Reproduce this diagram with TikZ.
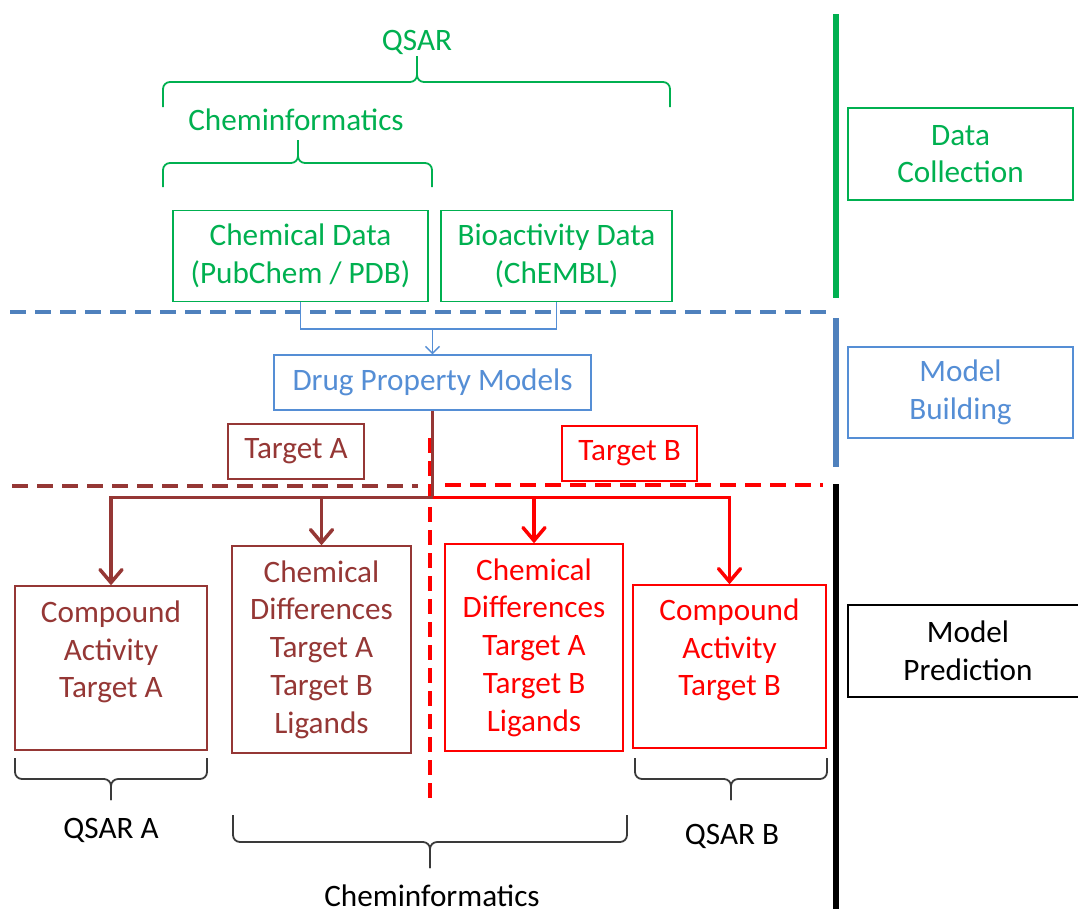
\documentclass[tikz,border=0pt]{standalone}
\usepackage{fontspec}
\setmainfont{Carlito}
\usetikzlibrary{arrows.meta}

\definecolor{qgreen}{HTML}{00B050}
\definecolor{qblue}{HTML}{4F81BD}
\definecolor{qlblue}{HTML}{558ED5}
\definecolor{qdred}{HTML}{953735}
\definecolor{qred}{HTML}{FF0000}
\definecolor{qgray}{HTML}{3A3A3A}

% curly brace: colour, left x, tip x, right x, end y, bar y, tip y
\newcommand\curlybrace[7]{%
  \draw[#1, line width=1.8, rounded corners=7] (#2,#5) -- (#2,#6) -- (#3,#6) -- (#3,#7);
  \draw[#1, line width=1.8, rounded corners=7] (#4,#5) -- (#4,#6) -- (#3,#6) -- (#3,#7);
}

\begin{document}
\begin{tikzpicture}[x=1pt, y=-1pt,
  font=\fontsize{31.2}{37.8}\selectfont,
  box/.style={draw, line width=1.4, inner sep=0pt, align=center},
  gbox/.style={box, draw=qgreen, text=qgreen},
  bbox/.style={box, draw=qlblue, text=qlblue},
  dbox/.style={box, draw=qdred, text=qdred},
  rbox/.style={box, draw=qred, text=qred},
  kbox/.style={box, draw=black, text=black},
  txt/.style={align=center, inner sep=0pt},
  bar/.style={line width=6},
  sep/.style={line width=3.8, dash pattern=on 16pt off 9pt},
  flow/.style={line width=3.5, -{Straight Barb[length=13pt, width=22pt, line cap=round]}},
]
\path[use as bounding box, clip] (0,0) rectangle (1078,914);

% phase bars on the right
\draw[bar, qgreen] (836,14) -- (836,298);
\draw[bar, qblue] (836,318) -- (836,467);
\draw[bar, black] (836,484) -- (836,909);

% phase labels
\node[gbox, minimum width=225, minimum height=92] (collect) at (960.5,154) {Data\\Collection};
\node[bbox, minimum width=225, minimum height=91] (build) at (960.5,392.5) {Model\\Building};
\node[kbox, minimum width=240, minimum height=92] (predict) at (968,651) {Model\\Prediction};

% top braces and labels
\node[txt, text=qgreen] (qsar) at (417,42) {QSAR};
\curlybrace{qgreen}{163}{417}{670}{107}{82}{56}
\node[txt, text=qgreen] (chemtop) at (296,120) {Cheminformatics};
\curlybrace{qgreen}{163}{298}{432}{187}{163}{140}

% data sources
\node[gbox, minimum width=255, minimum height=91] (chem) at (300.5,256) {Chemical Data\\(PubChem / PDB)};
\node[gbox, minimum width=231, minimum height=91] (bio) at (556.5,256) {Bioactivity Data\\(ChEMBL)};

% separators
\draw[sep, qblue] (10,312) -- (826,312);
\draw[sep, qdred] (12,486) -- (418,486);
\draw[sep, qred] (445,485) -- (823,485);
\draw[sep, qred, dash pattern=on 15pt off 8pt] (430,438) -- (430,805);

% model
\node[bbox, minimum width=317, minimum height=55] (drug) at (432.5,382.5) {Drug Property Models};
\coordinate (merge) at (432.5,329);
\draw[qlblue, line width=1.4] (chem.south) |- (merge) -| (bio.south);
\draw[qlblue, line width=1.4, -{Straight Barb[length=7pt, width=14pt]}] (merge) -- (drug.north);

% targets
\node[dbox, minimum width=136, minimum height=55] (tgtA) at (296,451.5) {Target A};
\node[rbox, minimum width=135, minimum height=55] (tgtB) at (629.5,453.5) {Target B};

% prediction boxes
\node[dbox, minimum width=192, minimum height=164] (actA) at (111,668) {};
\node[txt, text=qdred] (actAt) at (111,652) {Compound\\Activity\\Target A};
\node[dbox, minimum width=179, minimum height=207] (difA) at (321.5,649.5) {Chemical\\Differences\\Target A\\Target B\\Ligands};
\node[rbox, minimum width=178, minimum height=207] (difB) at (534,647.5) {Chemical\\Differences\\Target A\\Target B\\Ligands};
\node[rbox, minimum width=193, minimum height=163] (actB) at (729.5,666.5) {};
\node[txt, text=qred] (actBt) at (729.5,650) {Compound\\Activity\\Target B};

% branching arrows
\coordinate (split) at (432.5,497.5);
\draw[qdred, line width=3.5] (drug.south) -- (split);
\draw[flow, qdred] (split) -| (actA.north);
\draw[flow, qdred] (difA.north |- split) -- (difA.north);
\draw[flow, qred] (split) -| (actB.north);
\draw[flow, qred] (difB.north |- split) -- (difB.north);

% bottom braces and labels
\curlybrace{qgray}{15}{111}{207}{758}{779}{800}
\node[txt] (qsarA) at (111,830) {QSAR A};
\curlybrace{qgray}{233}{430}{627}{815}{842}{868}
\node[txt] (chembot) at (432,896) {Cheminformatics};
\curlybrace{qgray}{635}{731}{827}{758}{779}{800}
\node[txt] (qsarB) at (732,836) {QSAR B};
\end{tikzpicture}
\end{document}
